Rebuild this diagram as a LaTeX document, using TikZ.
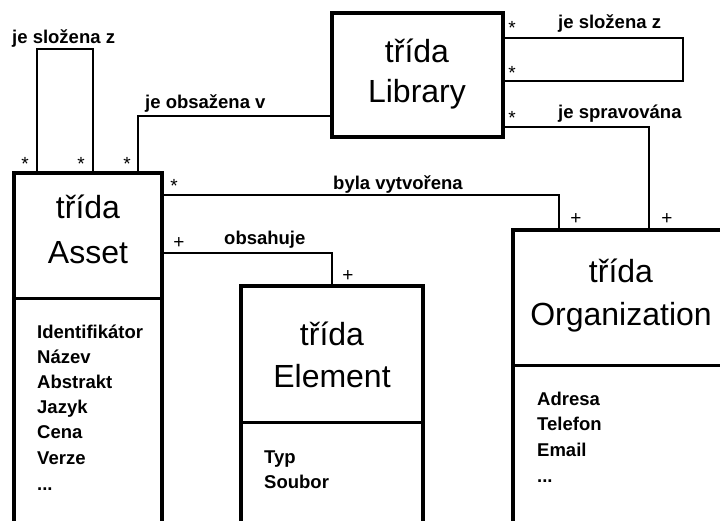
\documentclass[tikz,border=0pt]{standalone}
\usepackage{fontspec}
\setmainfont{Liberation Sans}
\usetikzlibrary{calc}
\begin{document}
\begin{tikzpicture}[x=1pt,y=-1pt,
  box/.style={draw, line width=4pt, rectangle, anchor=north west, inner sep=0pt, outer sep=0pt},
  conn/.style={line width=2.5pt},
  divider/.style={line width=3pt},
  title/.style={font=\fontsize{32}{38}\selectfont, anchor=base, inner sep=0pt},
  attr/.style={font=\bfseries\fontsize{18.5}{22}\selectfont, anchor=base west, inner sep=0pt},
  lbl/.style={font=\bfseries\fontsize{18.5}{22}\selectfont, anchor=base west, inner sep=0pt},
  mult/.style={font=\fontsize{19}{22}\selectfont, anchor=base, inner sep=0pt}]

\path[use as bounding box] (0,0) rectangle (720,520);
\clip (0,0) rectangle (720,520);

% class boxes
\node[box, minimum width=148pt, minimum height=370pt] (asset) at (14,173) {};
\node[box, minimum width=171pt, minimum height=124pt] (library) at (332,13) {};
\node[box, minimum width=182pt, minimum height=260pt] (element) at (241,286) {};
\node[box, minimum width=216pt, minimum height=320pt] (org) at (513,230) {};

% compartment dividers
\draw[divider] ($(asset.north west)+(0,125)$) -- ($(asset.north east)+(0,125)$);
\draw[divider] ($(element.north west)+(0,136)$) -- ($(element.north east)+(0,136)$);
\draw[divider] ($(org.north west)+(0,135)$) -- ($(org.north east)+(0,135)$);

% titles
\node[title] (assetT1) at (88,218) {třída};
\node[title] (assetT2) at (88,263) {Asset};
\node[title] (libT1) at (417,62) {třída};
\node[title] (libT2) at (417,102) {Library};
\node[title] (elT1) at (332,345) {třída};
\node[title] (elT2) at (332,387) {Element};
\node[title] (orgT1) at (621,282) {třída};
\node[title] (orgT2) at (621,325) {Organization};

% attributes
\node[attr] (a1) at (37,338) {Identifikátor};
\node[attr] (a2) at (37,363) {Název};
\node[attr] (a3) at (37,388) {Abstrakt};
\node[attr] (a4) at (37,413) {Jazyk};
\node[attr] (a5) at (37,438) {Cena};
\node[attr] (a6) at (37,464) {Verze};
\node[attr] (a7) at (37,490) {...};
\node[attr] (e1) at (264,463) {Typ};
\node[attr] (e2) at (264,488) {Soubor};
\node[attr] (o1) at (537,405) {Adresa};
\node[attr] (o2) at (537,430) {Telefon};
\node[attr] (o3) at (537,456) {Email};
\node[attr] (o4) at (537,482) {...};

% associations
\draw[conn] ($(asset.north west)+(23,0)$) -- ++(0,-124) -| ($(asset.north west)+(79,0)$);
\draw[conn] ($(asset.north west)+(124,0)$) |- ($(library.north west)+(0,103)$);
\draw[conn] ($(library.north east)+(0,25)$) -- ++(180,0) |- ($(library.north east)+(0,68)$);
\draw[conn] ($(library.north east)+(0,114)$) -| ($(org.north west)+(136,0)$);
\draw[conn] ($(asset.north east)+(0,22)$) -| ($(org.north west)+(46,0)$);
\draw[conn] ($(asset.north east)+(0,80)$) -| ($(element.north west)+(91,0)$);

% association labels
\node[lbl] (l1) at (12,43) {je složena z};
\node[lbl] (l2) at (145,108) {je obsažena v};
\node[lbl] (l3) at (333,189) {byla vytvořena};
\node[lbl] (l4) at (224,244) {obsahuje};
\node[lbl] (l5) at (558,28) {je složena z};
\node[lbl] (l6) at (558,118) {je spravována};

% multiplicities
\node[mult] (m1) at (25,170) {*};
\node[mult] (m2) at (81,170) {*};
\node[mult] (m3) at (127,170) {*};
\node[mult] (m4) at (174,192) {*};
\node[mult] (m5) at (512,34) {*};
\node[mult] (m6) at (512,79) {*};
\node[mult] (m7) at (512,124) {*};
\node[mult] (p1) at (179,248) {+};
\node[mult] (p2) at (348,281) {+};
\node[mult] (p3) at (576,224) {+};
\node[mult] (p4) at (667,224) {+};
\end{tikzpicture}
\end{document}
